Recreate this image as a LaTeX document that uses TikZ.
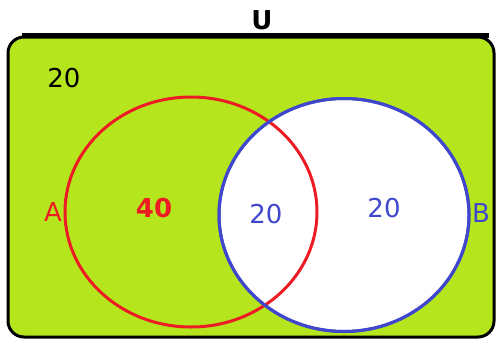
\documentclass[tikz,border=0pt]{standalone}
\usepackage{fontspec}
\setmainfont{DejaVu Sans}
\usetikzlibrary{shapes.geometric}
\definecolor{lime}{HTML}{B5E61D}
\definecolor{pred}{HTML}{ED1C24}
\definecolor{pblue}{HTML}{3F48CC}
\begin{document}
\begin{tikzpicture}[x=1pt,y=-1pt,
  lbl/.style={inner sep=0pt,font=\fontsize{26}{26}\selectfont},
  setshape/.style={ellipse,draw,line width=3pt,inner sep=0pt}]
\useasboundingbox (0,0) rectangle (497,340);
\node[draw=black,line width=3pt,fill=lime,rounded corners=16pt,minimum width=486pt,minimum height=300pt,inner sep=0pt] (U) at (251,187) {};
\draw[line width=5pt] (22,35) coordinate (t1) -- (489,35) coordinate (t2);
\node[setshape,draw=pblue,fill=white,minimum width=250pt,minimum height=233pt] (B) at (344,215) {};
\node[setshape,draw=pred,minimum width=252pt,minimum height=230pt] (A) at (191,212) {};
\node[setshape,draw=pblue,minimum width=250pt,minimum height=233pt] (B2) at (344,215) {};
\node[lbl,font=\fontsize{26}{26}\selectfont\bfseries] (ul) at (262,20) {U};
\node[lbl] (u20) at (64,78) {20};
\node[lbl,text=pred] (al) at (53,212) {A};
\node[lbl,text=pred,font=\fontsize{26}{26}\selectfont\bfseries] (a40) at (154,208) {40};
\node[lbl,text=pblue] (ab20) at (266,214) {20};
\node[lbl,text=pblue] (b20) at (384,208) {20};
\node[lbl,text=pblue] (bl) at (481,213) {B};
\end{tikzpicture}
\end{document}
